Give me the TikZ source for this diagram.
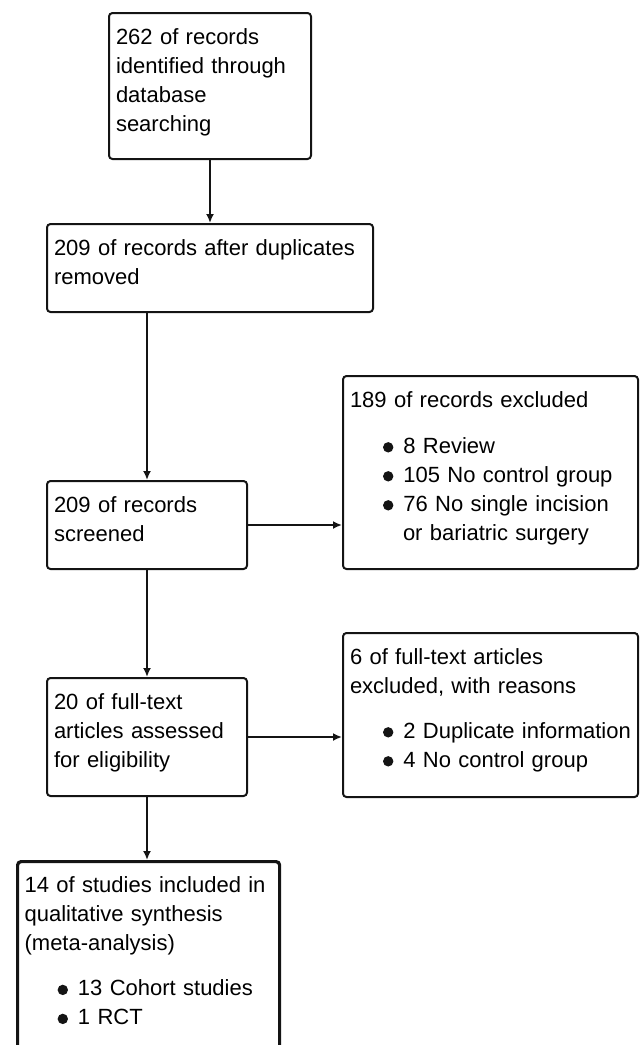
\documentclass[tikz,border=0pt]{standalone}
\usepackage{fontspec}
\setmainfont{Liberation Sans}
\usepackage{tikz}
\usetikzlibrary{arrows.meta}
\definecolor{myline}{RGB}{20,20,20}
\newcommand{\itemdot}{\tikz[baseline={(0,-5.7pt)}]\fill[myline] (0,0) circle (5.2pt);}

\begin{document}
\begin{tikzpicture}[x=1pt,y=-1pt,
  box/.style={draw=myline,line width=2pt,rounded corners=3.5pt,anchor=north west,
    align=left,inner xsep=7pt,inner ysep=14pt,text height=17pt,
    font=\fontsize{22}{29}\selectfont},
  arr/.style={draw=myline,line width=2pt,-{Latex[length=9pt,width=8pt]}}]

\clip (0,0) rectangle (644,1045);

% main column
\node[box,text width=188pt,text depth=101pt] (ident) at (108,12)
  {262 of records\\identified through\\database\\searching};
\node[box,text width=312pt,text depth=43pt] (dedup) at (46,223)
  {209 of records after duplicates\\removed};
\node[box,text width=186pt,text depth=43pt] (screen) at (46,480)
  {209 of records\\screened};
\node[box,text width=186pt,text depth=73pt] (full) at (46,677)
  {20 of full-text\\articles assessed\\for eligibility};
\node[box,line width=3.2pt,text width=248pt,text depth=165pt] (incl) at (16,860)
  {14 of studies included in\\qualitative synthesis\\(meta-analysis)\\[16pt]
   \hspace*{33pt}\mbox{\itemdot\hspace{10pt}13 Cohort studies}\\
   \hspace*{33pt}\mbox{\itemdot\hspace{10pt}1 RCT}};

% exclusions
\node[box,text width=281pt,text depth=148pt] (excl) at (342,375)
  {189 of records excluded\\[17pt]
   \hspace*{33pt}\mbox{\itemdot\hspace{10pt}8 Review}\\
   \hspace*{33pt}\mbox{\itemdot\hspace{10pt}105 No control group}\\
   \hspace*{33pt}\mbox{\itemdot\hspace{10pt}76 No single incision}\\
   \hspace*{53pt}or bariatric surgery};
\node[box,text width=281pt,text depth=119pt] (exclfull) at (342,632)
  {6 of full-text articles\\excluded, with reasons\\[16pt]
   \hspace*{33pt}\mbox{\itemdot\hspace{10pt}2 Duplicate information}\\
   \hspace*{33pt}\mbox{\itemdot\hspace{10pt}4 No control group}};

% arrows
\draw[arr] (ident.south) -- (dedup.north);
\draw[arr] (dedup.south -| screen.north) -- (screen.north);
\draw[arr] (screen.south) -- (screen.south |- full.north);
\draw[arr] (full.south) -- (full.south |- incl.north);
\draw[arr] (screen.east) -- (screen.east -| excl.west);
\draw[arr] (full.east) -- (full.east -| exclfull.west);

\end{tikzpicture}
\end{document}
